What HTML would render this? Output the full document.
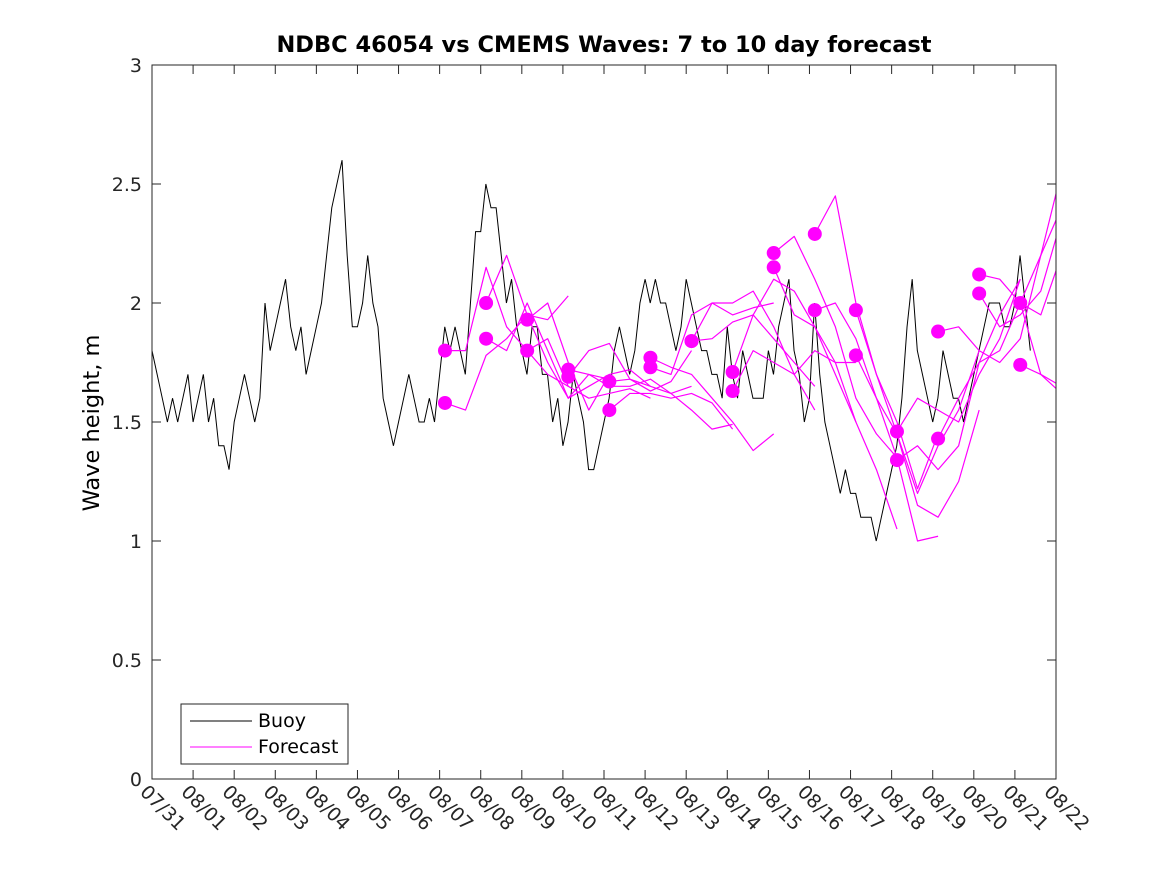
<!DOCTYPE html>
<html><head><meta charset="utf-8"><style>
body{margin:0;background:#fff;}
svg{display:block;font-family:"DejaVu Sans","Liberation Sans",sans-serif;}
</style></head><body>
<svg id="chart" width="1167" height="875" viewBox="0 0 1167 875">
<rect width="1167" height="875" fill="#fff"/>
<defs><clipPath id="plotclip"><rect x="152" y="65" width="904" height="714"/></clipPath></defs>
<text x="604" y="52" text-anchor="middle" font-size="22.5" font-weight="bold">NDBC 46054 vs CMEMS Waves: 7 to 10 day forecast</text>
<text transform="translate(99,423) rotate(-90)" text-anchor="middle" font-size="22.5">Wave height, m</text>
<g id="axes"></g>
<g id="series" clip-path="url(#plotclip)"></g>
<rect x="152" y="65" width="904" height="714" fill="none" stroke="#262626" stroke-width="1"/>
<g>
<rect x="181" y="704" width="167" height="60" fill="#fff" stroke="#262626"/>
<line x1="190" y1="721" x2="252" y2="721" stroke="#000" stroke-width="1"/>
<text x="258" y="727" font-size="19">Buoy</text>
<line x1="190" y1="747" x2="252" y2="747" stroke="#ff00ff" stroke-width="1"/>
<text x="258" y="753" font-size="19">Forecast</text>
</g>
</svg>
<script>
const xTickLabels=["07/31","08/01","08/02","08/03","08/04","08/05","08/06","08/07","08/08","08/09","08/10","08/11","08/12","08/13","08/14","08/15","08/16","08/17","08/18","08/19","08/20","08/21","08/22"];
const yTicks=[0,0.5,1,1.5,2,2.5,3];
const buoyStepDays=0.125;
const buoy=[1.8,1.7,1.6,1.5,1.6,1.5,1.6,1.7,
1.5,1.6,1.7,1.5,1.6,1.4,1.4,1.3,
1.5,1.6,1.7,1.6,1.5,1.6,2.0,1.8,
1.9,2.0,2.1,1.9,1.8,1.9,1.7,1.8,
1.9,2.0,2.2,2.4,2.5,2.6,2.2,1.9,
1.9,2.0,2.2,2.0,1.9,1.6,1.5,1.4,
1.5,1.6,1.7,1.6,1.5,1.5,1.6,1.5,
1.7,1.9,1.8,1.9,1.8,1.7,2.0,2.3,
2.3,2.5,2.4,2.4,2.2,2.0,2.1,1.9,
1.8,1.7,1.9,1.9,1.7,1.7,1.5,1.6,
1.4,1.5,1.7,1.6,1.5,1.3,1.3,1.4,
1.5,1.6,1.8,1.9,1.8,1.7,1.8,2.0,
2.1,2.0,2.1,2.0,2.0,1.9,1.8,1.9,
2.1,2.0,1.9,1.8,1.8,1.7,1.7,1.6,
1.9,1.7,1.6,1.8,1.7,1.6,1.6,1.6,
1.8,1.7,1.9,2.0,2.1,1.8,1.7,1.5,
1.6,2.0,1.7,1.5,1.4,1.3,1.2,1.3,
1.2,1.2,1.1,1.1,1.1,1.0,1.1,1.2,
1.3,1.4,1.6,1.9,2.1,1.8,1.7,1.6,
1.5,1.6,1.8,1.7,1.6,1.6,1.5,1.6,
1.7,1.8,1.9,2.0,2.0,2.0,1.9,1.9,
2.0,2.2,2.0,1.8];
const fcStepDays=0.5;
const fcStarts=[7.13,7.13,8.13,8.13,9.13,9.13,10.13,10.13,11.13,11.13,12.13,12.13,13.13,13.13,14.13,14.13,15.13,15.13,16.13,16.13,17.13,17.13,18.13,18.13,19.13,19.13,20.13,20.13,21.13,21.13];
const fcValues=[
[1.80,1.80,2.15,1.90,1.80,1.70,1.65],
[1.58,1.55,1.78,1.85,1.95,1.93,2.03],
[2.00,2.20,1.95,1.75,1.60,1.65,1.70],
[1.85,1.80,2.00,1.80,1.60,1.70,1.68],
[1.93,2.00,1.75,1.55,1.70,1.72,1.65],
[1.80,1.85,1.65,1.60,1.62,1.64,1.60],
[1.72,1.70,1.65,1.65,1.68,1.62,1.65],
[1.69,1.80,1.83,1.68,1.63,1.67,1.80],
[1.67,1.68,1.65,1.62,1.55,1.47,1.49],
[1.55,1.62,1.62,1.60,1.62,1.58,1.47],
[1.77,1.73,1.70,1.60,1.50,1.38,1.45],
[1.73,1.70,1.95,2.00,1.95,1.98,2.00],
[1.84,2.00,2.00,2.05,1.90,1.70,1.55],
[1.84,1.85,1.92,1.95,1.85,1.75,1.65],
[1.71,1.95,2.10,2.05,1.90,1.75,1.50],
[1.63,1.80,1.75,1.70,1.80,1.75,1.75],
[2.21,2.28,2.10,1.90,1.60,1.45,1.35],
[2.15,1.95,1.90,1.70,1.50,1.30,1.05],
[2.29,2.45,2.00,1.70,1.50,1.22,1.45],
[1.97,2.00,1.85,1.60,1.35,1.00,1.02],
[1.97,1.70,1.45,1.15,1.10,1.25,1.55],
[1.78,1.60,1.45,1.20,1.40,1.55,1.80],
[1.46,1.60,1.55,1.50,1.70,1.85,2.10],
[1.34,1.40,1.30,1.40,1.75,1.95,2.10],
[1.88,1.90,1.80,1.75,1.85,2.20,2.55],
[1.43,1.60,1.75,1.80,2.00,2.20,2.40],
[2.12,2.10,2.00,1.95,2.20,2.00,1.98],
[2.04,1.90,1.95,2.05,2.35,2.05,2.05],
[2.00,1.70,1.62,1.65],
[1.74,1.70,1.65,1.62]];

const NS="http://www.w3.org/2000/svg";
const X0=152,X1=1056,Y0=779,Y1=65;
const xs=d=>X0+(X1-X0)*d/22;
const ys=v=>Y0-(Y0-Y1)*v/3;
function mk(tag,attrs,parent){const e=document.createElementNS(NS,tag);for(const k in attrs)e.setAttribute(k,attrs[k]);parent.appendChild(e);return e;}
const axes=document.getElementById('axes');
const series=document.getElementById('series');
xTickLabels.forEach((lab,i)=>{
  const x=xs(i);
  const t1=mk('line',{x1:x,y1:Y0,x2:x,y2:Y0-9,stroke:'#262626'},axes);
  
  
  const t2=mk('line',{x1:x,y1:Y1,x2:x,y2:Y1+9,stroke:'#262626'},axes);
  
  
  const tx=mk('text',{transform:`translate(${x-13},${Y0+14}) rotate(45)`,'font-size':19,fill:'#262626'},axes);
  tx.textContent=lab;
  
  
});
yTicks.forEach(v=>{
  const y=ys(v);
  const t1=mk('line',{x1:X0,y1:y,x2:X0+9,y2:y,stroke:'#262626'},axes);
  
  
  const t2=mk('line',{x1:X1,y1:y,x2:X1-9,y2:y,stroke:'#262626'},axes);
  
  
  const tx=mk('text',{x:X0-10,y:y+7,'text-anchor':'end','font-size':19,fill:'#262626'},axes);
  tx.textContent=String(v);
  
  
});
const pts=buoy.map((v,i)=>xs(i*buoyStepDays)+','+ys(v));
const bl=mk('polyline',{points:pts.join(' '),fill:'none',stroke:'#000','stroke-width':1},series);


fcValues.forEach((vals,k)=>{
  const p=vals.map((v,j)=>xs(fcStarts[k]+j*fcStepDays)+','+ys(v)).join(' ');
  const l=mk('polyline',{points:p,fill:'none',stroke:'#ff00ff','stroke-width':1.2,'stroke-linejoin':'round'},series);
  
  
});
fcValues.forEach((vals,k)=>{
  const c=mk('circle',{cx:xs(fcStarts[k]),cy:ys(vals[0]),r:7,fill:'#ff00ff'},series);
  
  
});
</script>
</body></html>
